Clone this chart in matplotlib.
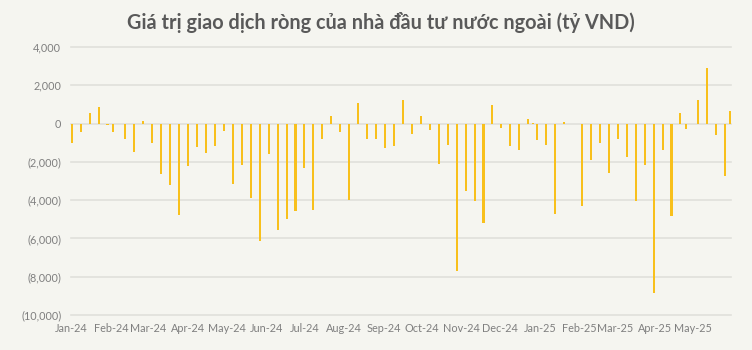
import matplotlib.pyplot as plt
import matplotlib.dates as mdates
import matplotlib.ticker as mticker
import pandas as pd

# Giá trị giao dịch ròng theo tuần (tỷ VND)
dates = [
    "2024-01-01", "2024-01-08", "2024-01-15", "2024-01-22", "2024-01-29", "2024-02-02",
    "2024-02-12", "2024-02-19", "2024-02-26", "2024-03-04", "2024-03-11", "2024-03-18",
    "2024-03-25", "2024-04-01", "2024-04-08", "2024-04-15", "2024-04-22", "2024-04-29",
    "2024-05-06", "2024-05-13", "2024-05-20", "2024-05-27", "2024-06-03", "2024-06-10",
    "2024-06-17", "2024-06-24", "2024-07-01", "2024-07-08", "2024-07-15", "2024-07-22",
    "2024-07-29", "2024-08-05", "2024-08-12", "2024-08-19", "2024-08-26", "2024-09-02",
    "2024-09-09", "2024-09-16", "2024-09-23", "2024-09-30", "2024-10-07", "2024-10-14",
    "2024-10-21", "2024-10-28", "2024-11-04", "2024-11-11", "2024-11-18", "2024-11-25",
    "2024-12-02", "2024-12-09", "2024-12-16", "2024-12-23", "2024-12-27", "2024-12-30",
    "2025-01-06", "2025-01-13", "2025-01-20", "2025-02-03", "2025-02-10", "2025-02-17",
    "2025-02-24", "2025-03-03", "2025-03-10", "2025-03-17", "2025-03-24", "2025-03-31",
    "2025-04-07", "2025-04-14", "2025-04-21", "2025-04-25", "2025-05-05", "2025-05-12",
    "2025-05-19", "2025-05-26", "2025-05-30",
]
values = [
    -1040, -430, 570, 870, -70, -420,
    -800, -1510, 120, -1010, -2640, -3220,
    -4770, -2230, -1200, -1550, -1170, -365,
    -3180, -2190, -3900, -6120, -1580, -5570,
    -4990, -4570, -2330, -4540, -830, 420,
    -430, -3970, 1060, -800, -830, -1290,
    -1170, 1220, -520, 420, -330, -2100,
    -1100, -7690, -3510, -4030, -5220, 990,
    -230, -1170, -1360, 260, 50, -870,
    -1130, -4710, 100, -4280, -1900, -1030,
    -2570, -830, -1740, -4030, -2140, -8870,
    -1360, -4830, 570, -300, 1250, 2920,
    -590, -2750, 640,
]
y_ticks = [4000, 2000, 0, -2000, -4000, -6000, -8000, -10000]

bg = "#F5F5F0"
bar_color = "#F8C01C"
text_gray = "#7F7F7F"

x = pd.to_datetime(dates)

fig = plt.figure(figsize=(7.52, 3.5), dpi=100, facecolor=bg)
ax = fig.add_axes([0.0944, 0.1, 0.878, 0.7657], facecolor=bg)

ax.bar(x, values, width=1.6, color=bar_color, antialiased=False, zorder=3)

start = pd.Timestamp("2024-01-01")
ax.set_xlim(start - pd.Timedelta(days=0.55), start + pd.Timedelta(days=515.7))
ax.set_ylim(-10000, 4000)

ax.set_yticks(y_ticks)
ax.yaxis.set_major_formatter(mticker.FuncFormatter(
    lambda v, p: f"({abs(v):,.0f})" if v < 0 else f"{v:,.0f}"))
ax.xaxis.set_major_locator(mdates.MonthLocator())
ax.xaxis.set_major_formatter(mdates.DateFormatter("%b-%y"))

ax.grid(axis="y", color="#E0E0DB", linewidth=1.2, zorder=0)
for gl in ax.get_ygridlines():
    gl.set_clip_on(False)
for s in ax.spines.values():
    s.set_visible(False)
ax.tick_params(length=0, colors=text_gray, labelsize=7.8)
ax.tick_params(axis="y", pad=7)
ax.tick_params(axis="x", pad=6)
for lab in ax.get_xticklabels() + ax.get_yticklabels():
    lab.set_family("Lato")

fig.text(0.506, 0.935, "Giá trị giao dịch ròng của nhà đầu tư nước ngoài (tỷ VND)",
         ha="center", va="center", fontsize=14.3, fontweight="bold",
         color="#595959", family="Lato")

fig.savefig("out.png", dpi=100, facecolor=bg)
